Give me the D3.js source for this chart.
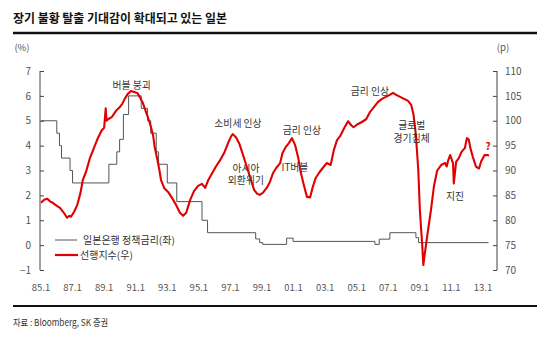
<!DOCTYPE html>
<html>
<head>
<meta charset="utf-8">
<script src="https://cdn.jsdelivr.net/npm/d3@7"></script>
<style>
  html, body { margin: 0; padding: 0; background: #fff; }
  svg { display: block; }
  text { font-family: "Noto Sans CJK KR", "Noto Sans", sans-serif; }
</style>
</head>
<body>
<div id="chart"></div>
<script>
// ---------- data ----------
const title = "장기 불황 탈출 기대감이 확대되고 있는 일본";
const source = "자료 : Bloomberg, SK 증권";

const xTickYears = [1985, 1987, 1989, 1991, 1993, 1995, 1997, 1999, 2001, 2003, 2005, 2007, 2009, 2011, 2013];
const xTickLabels = ["85.1", "87.1", "89.1", "91.1", "93.1", "95.1", "97.1", "99.1", "01.1", "03.1", "05.1", "07.1", "09.1", "11.1", "13.1"];
const leftTicks = [-1, 0, 1, 2, 3, 4, 5, 6, 7];
const rightTicks = [70, 75, 80, 85, 90, 95, 100, 105, 110];

// BOJ policy rate (%), left axis (step)
const rateYears = [1985.0, 1986.0, 1986.17, 1986.3, 1986.84, 1987.0, 1989.3, 1989.8, 1989.98, 1990.22, 1990.55,
  1991.35, 1991.75, 1991.95, 1992.3, 1992.45, 1993.0, 1993.6, 1995.2, 1995.55, 1998.6, 1998.85, 1999.05, 2000.56, 2000.97,
  2006.15, 2006.43, 2007.1, 2008.75, 2008.92, 2013.35];
const rateValues = [5.0, 4.5, 4.0, 3.5, 3.0, 2.5, 3.25, 3.75, 4.25, 5.25, 6.0,
  5.5, 5.0, 4.5, 3.75, 3.25, 2.5, 1.75, 1.0, 0.5, 0.25, 0.1, 0.03, 0.28, 0.15,
  0.03, 0.24, 0.5, 0.3, 0.1, 0.1];

// Leading index (p), right axis
const leadYears = [1985.0, 1985.2, 1985.4, 1985.6, 1985.75, 1986.0, 1986.2, 1986.45, 1986.65, 1986.8, 1986.9,
  1987.1, 1987.3, 1987.5, 1987.65, 1987.85, 1988.1, 1988.35, 1988.6, 1988.85, 1989.0, 1989.1, 1989.15, 1989.25, 1989.5,
  1989.75, 1989.95, 1990.15, 1990.3, 1990.5, 1990.7, 1990.9, 1991.1, 1991.25, 1991.45, 1991.65, 1991.9, 1992.1,
  1992.2, 1992.35, 1992.5, 1992.6, 1992.8, 1993.05, 1993.3, 1993.55, 1993.8, 1994.0, 1994.2, 1994.45, 1994.7,
  1994.95, 1995.2, 1995.4, 1995.6, 1995.85, 1996.1, 1996.35, 1996.6, 1996.85, 1997.05, 1997.15, 1997.35, 1997.55,
  1997.7, 1997.9, 1998.1, 1998.3, 1998.5, 1998.7, 1998.85, 1999.05, 1999.3, 1999.5, 1999.7, 1999.9, 2000.15,
  2000.3, 2000.5, 2000.7, 2000.9, 2001.1, 2001.3, 2001.45, 2001.65, 2001.85, 2002.05, 2002.2, 2002.4, 2002.65,
  2002.9, 2003.1, 2003.35, 2003.55, 2003.75, 2003.95, 2004.2, 2004.45, 2004.65, 2004.8, 2005.05, 2005.3, 2005.6,
  2005.85, 2006.1, 2006.35, 2006.6, 2006.85, 2007.1, 2007.3, 2007.5, 2007.75, 2008.0, 2008.25, 2008.45, 2008.6,
  2008.75, 2008.9, 2009.0, 2009.15, 2009.22, 2009.3, 2009.5, 2009.7, 2009.9, 2010.1, 2010.35, 2010.6, 2010.7,
  2010.8, 2010.92, 2011.1, 2011.15, 2011.3, 2011.45, 2011.65, 2011.85, 2011.98, 2012.1, 2012.2, 2012.35, 2012.55,
  2012.75, 2012.88, 2013.0, 2013.1, 2013.25, 2013.38];
const leadValues = [83.5, 84.1, 84.3, 83.7, 83.5, 82.9, 82.5, 81.5, 80.5, 80.9, 80.7,
  81.7, 83.1, 85.5, 88.1, 89.7, 92.5, 94.5, 96.5, 98.1, 98.6, 102.5, 100.0, 100.3, 100.8,
  102.0, 102.6, 103.4, 104.4, 105.4, 106.0, 105.8, 105.6, 104.8, 103.6, 101.8, 99.5, 97.1,
  94.7, 92.5, 90.1, 88.1, 86.5, 85.7, 84.5, 83.1, 81.5, 80.9, 81.5, 84.1, 85.9,
  86.9, 87.3, 86.5, 88.1, 89.5, 90.9, 92.1, 93.5, 95.5, 96.9, 97.3, 96.7, 95.5,
  94.1, 92.1, 90.1, 88.1, 86.1, 85.3, 85.1, 85.5, 86.5, 87.7, 89.5, 90.5, 91.5,
  93.5, 94.7, 95.5, 96.5, 95.1, 92.5, 89.7, 87.1, 84.7, 84.6, 86.5, 88.5, 89.7,
  90.7, 91.5, 91.1, 94.1, 96.1, 96.9, 98.5, 99.9, 99.1, 98.7, 99.3, 99.7, 100.3,
  101.8, 102.8, 103.8, 104.4, 104.8, 105.2, 105.6, 105.2, 104.8, 104.4, 104.0, 103.2, 101.2,
  97.1, 90.1, 82.1, 75.0, 71.0, 73.0, 77.6, 82.0, 87.0, 90.0, 91.1, 91.5, 90.8,
  92.1, 93.1, 91.5, 87.4, 91.8, 92.4, 93.8, 94.5, 96.5, 96.2, 94.5, 92.8, 90.8,
  90.4, 91.8, 92.5, 93.1, 93.1, 93.0];

const legendLabels = ["일본은행 정책금리(좌)", "선행지수(우)"];

const annotations = [
  { text: ["버블 붕괴"], year: 1990.74, val: 106.4 },
  { text: ["소비세 인상"], year: 1997.48, val: 98.75 },
  { text: ["아시아", "외환위기"], year: 1997.98, val: 89.7 },
  { text: ["금리 인상"], year: 2001.53, val: 97.3 },
  { text: ["IT버블"], year: 2001.09, val: 90.0 },
  { text: ["금리 인상"], year: 2005.84, val: 105.1 },
  { text: ["글로벌", "경기침체"], year: 2008.48, val: 98.3 },
  { text: ["지진"], year: 2011.22, val: 84.1 }
];

// ---------- layout ----------
const W = 550, H = 346;
const svg = d3.select("#chart").append("svg").attr("width", W).attr("height", H);

const x = d3.scaleLinear().domain([1985, 2013]).range([41, 483]);
const yL = d3.scaleLinear().domain([-1, 7]).range([270, 71]);
const yR = d3.scaleLinear().domain([70, 110]).range([270, 71]);
const leftX = 40, rightX = 497;

// title
svg.append("text").attr("x", 13).attr("y", 23)
  .attr("font-size", 12.5).attr("font-weight", "bold").attr("fill", "#111")
  .attr("textLength", 214).attr("lengthAdjust", "spacingAndGlyphs")
  .text(title);
svg.append("line").attr("x1", 13).attr("x2", 537).attr("y1", 33).attr("y2", 33)
  .attr("stroke", "#111").attr("stroke-width", 2.5);

// axes
const axisColor = "#444", labColor = "#555";
const gL = svg.append("g").attr("transform", `translate(${leftX},0)`)
  .call(d3.axisRight(yL).tickValues(leftTicks).tickSize(4).tickFormat(d => d < 0 ? "\u2212" + Math.abs(d) : d));
gL.select(".domain").attr("stroke", axisColor).attr("d", `M0,${yL(7)}V${yL(-1)}`);
gL.selectAll(".tick line").attr("stroke", axisColor);
gL.selectAll(".tick text").attr("x", -9).attr("text-anchor", "end")
  .attr("font-size", 10).attr("fill", labColor).attr("font-family", "Liberation Sans, Arial, sans-serif");

const gR = svg.append("g").attr("transform", `translate(${rightX},0)`)
  .call(d3.axisLeft(yR).tickValues(rightTicks).tickSize(4));
gR.select(".domain").attr("stroke", axisColor).attr("d", `M0,${yR(110)}V${yR(70)}`);
gR.selectAll(".tick line").attr("stroke", axisColor);
gR.selectAll(".tick text").attr("x", 8).attr("text-anchor", "start")
  .attr("font-size", 10).attr("fill", labColor).attr("font-family", "Liberation Sans, Arial, sans-serif");

svg.append("text").attr("x", 22).attr("y", 51).attr("text-anchor", "middle")
  .attr("font-size", 9.5).attr("fill", labColor).attr("font-family", "Liberation Sans, Arial, sans-serif").text("(%)");
svg.append("text").attr("x", 503).attr("y", 51).attr("text-anchor", "middle")
  .attr("font-size", 9.5).attr("fill", labColor).attr("font-family", "Liberation Sans, Arial, sans-serif").text("(p)");

// x tick labels
svg.append("g").selectAll("text").data(xTickYears).join("text")
  .attr("x", d => x(d)).attr("y", 291).attr("text-anchor", "middle")
  .attr("font-size", 9.5).attr("fill", labColor).attr("font-family", "Liberation Sans, Arial, sans-serif")
  .text((d, i) => xTickLabels[i]);

// policy rate line
const rateData = rateYears.map((d, i) => [d, rateValues[i]]);
svg.append("path").datum(rateData)
  .attr("fill", "none").attr("stroke", "#555").attr("stroke-width", 1)
  .attr("d", d3.line().x(d => x(d[0])).y(d => yL(d[1])).curve(d3.curveStepAfter));

// leading index line
const leadData = leadYears.map((d, i) => [d, leadValues[i]]);
svg.append("path").datum(leadData)
  .attr("fill", "none").attr("stroke", "#e00000").attr("stroke-width", 2.1).attr("stroke-linejoin", "round")
  .attr("d", d3.line().x(d => x(d[0])).y(d => yR(d[1])));

// annotations (one text element per line)
annotations.forEach(a => {
  a.text.forEach((line, i) => {
    svg.append("text").attr("x", x(a.year)).attr("y", yR(a.val) + i * 12.5)
      .attr("text-anchor", "middle").attr("font-size", 9.8).attr("fill", "#333").text(line);
  });
});
svg.append("text").attr("x", 488).attr("y", yR(94.1)).attr("text-anchor", "middle")
  .attr("font-size", 10).attr("font-weight", "bold").attr("fill", "#e00000").text("?");

// legend
const lg = svg.append("g");
lg.append("line").attr("x1", 55).attr("x2", 77).attr("y1", 240).attr("y2", 240).attr("stroke", "#555").attr("stroke-width", 1);
lg.append("text").attr("x", 83).attr("y", 244).attr("font-size", 10).attr("fill", "#333").text(legendLabels[0]);
lg.append("line").attr("x1", 55).attr("x2", 78).attr("y1", 255).attr("y2", 255).attr("stroke", "#e00000").attr("stroke-width", 2.2);
lg.append("text").attr("x", 80).attr("y", 259).attr("font-size", 10).attr("fill", "#333").text(legendLabels[1]);

// bottom rule + source
svg.append("line").attr("x1", 13).attr("x2", 537).attr("y1", 306).attr("y2", 306)
  .attr("stroke", "#111").attr("stroke-width", 2);
svg.append("text").attr("x", 13).attr("y", 326).attr("font-size", 9.5).attr("fill", "#333")
  .attr("textLength", 95).attr("lengthAdjust", "spacingAndGlyphs").text(source);
</script>
</body>
</html>
